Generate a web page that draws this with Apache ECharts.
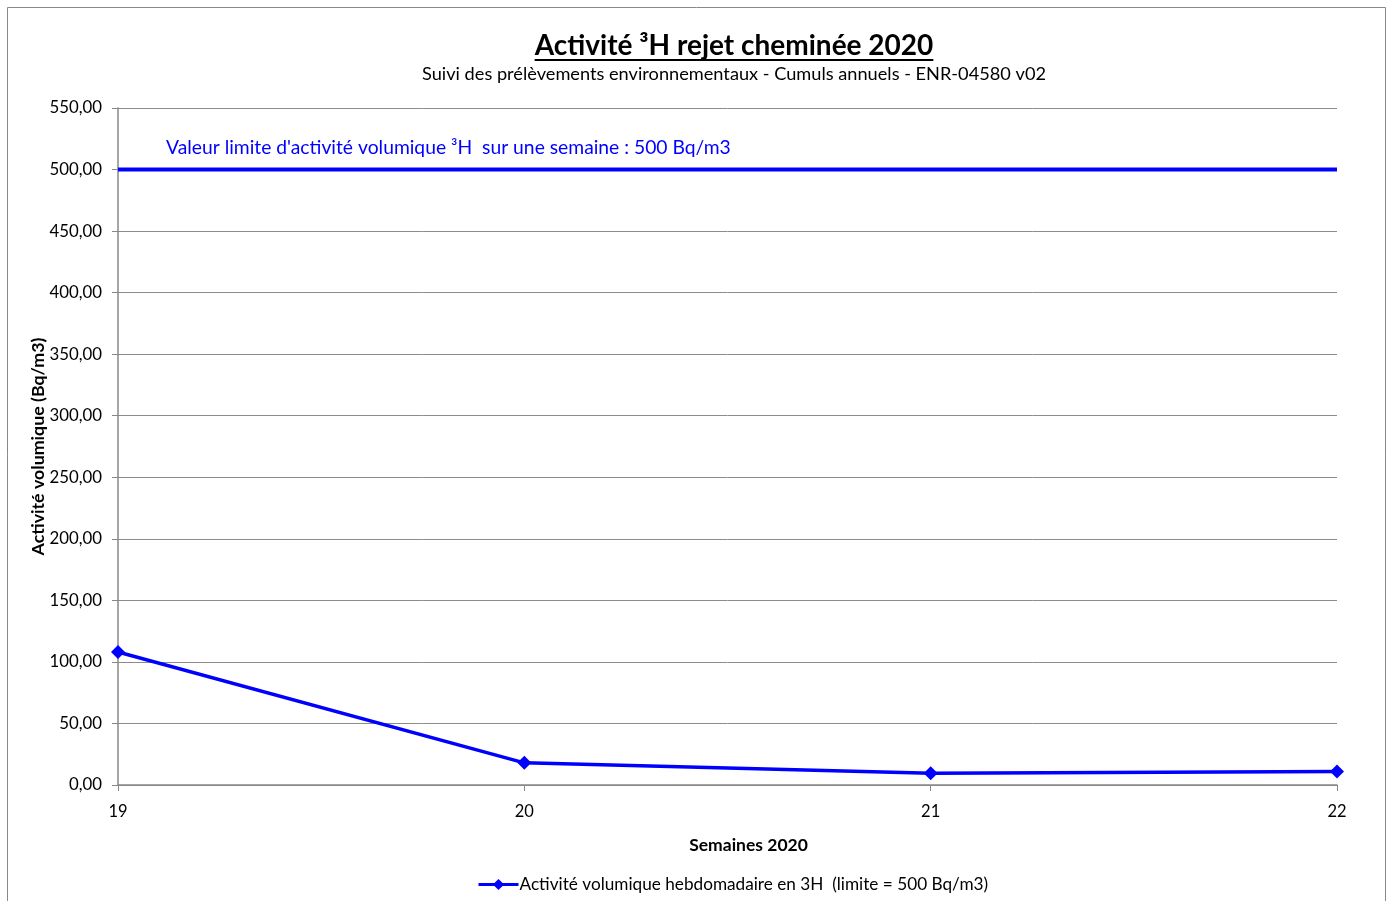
<!DOCTYPE html>
<html><head><meta charset="utf-8">
<script src="https://cdn.jsdelivr.net/npm/echarts@6/dist/echarts.min.js"></script>
<style>html,body{margin:0;padding:0;background:#fff}#c{width:1388px;height:901px}</style>
</head><body><div id="c"></div>
<script>
const weeks = ['19', '20', '21', '22'];
const activity = [108, 18, 9.5, 11];
const limit = [500, 500, 500, 500];
const yTicks = { min: 0, max: 550, interval: 50 };
const titleText = 'Activité ³H rejet cheminée 2020';
const subtitleText = 'Suivi des prélèvements environnementaux - Cumuls annuels - ENR-04580 v02';
const limitText = "Valeur limite d'activité volumique ³H  sur une semaine : 500 Bq/m3";
const seriesName = 'Activité volumique hebdomadaire en 3H  (limite = 500 Bq/m3)';

const FONT = 'Lato, "Open Sans", sans-serif';
const titleFont = 'bold 28px ' + FONT;
const ctx = document.createElement('canvas').getContext('2d');
ctx.font = titleFont;
const tw = ctx.measureText(titleText).width;
const cx = 734;

const chart = echarts.init(document.getElementById('c'));
chart.setOption({
  backgroundColor: '#fff',
  animation: false,
  textStyle: { fontFamily: FONT },
  grid: { left: 118, right: 51, top: 108, bottom: 116, containLabel: false },
  legend: {
    data: [seriesName], bottom: 3, left: 472,
    itemWidth: 40, itemHeight: 14, itemGap: 4,
    lineStyle: { width: 3 },
    textStyle: { fontSize: 17.2, color: '#000', fontFamily: FONT, padding: [0, 0, 0, -4] }
  },
  xAxis: {
    type: 'category', data: weeks, boundaryGap: false,
    name: 'Semaines 2020', nameLocation: 'middle', nameGap: 51,
    nameTextStyle: { fontSize: 17.5, fontWeight: 'bold', color: '#000', padding: [0, 0, 0, 42] },
    axisLine: { lineStyle: { color: '#888', width: 1.5 } },
    axisTick: { alignWithLabel: true, length: 6, lineStyle: { color: '#888' } },
    axisLabel: { fontSize: 16.5, color: '#000', margin: 18 }
  },
  yAxis: {
    type: 'value', min: yTicks.min, max: yTicks.max, interval: yTicks.interval,
    name: 'Activité volumique (Bq/m3)', nameLocation: 'middle', nameGap: 71,
    nameMoveOverlap: false,
    nameTextStyle: { fontSize: 17.8, fontWeight: 'bold', color: '#000', padding: [0, 0, 0, 0] },
    axisLine: { show: true, lineStyle: { color: '#888', width: 1.5 } },
    axisTick: { show: true, length: 6, lineStyle: { color: '#888' } },
    axisLabel: { fontSize: 16.8, color: '#000', margin: 16,
      formatter: v => v.toFixed(2).replace('.', ',') },
    splitLine: { lineStyle: { color: '#8c8c8c', width: 1 } }
  },
  series: [{
    name: seriesName, type: 'line', data: activity,
    symbol: 'diamond', symbolSize: 14,
    lineStyle: { color: '#0000ff', width: 3.5 },
    itemStyle: { color: '#0000ff' }
  }, {
    name: 'limite', type: 'line', data: limit,
    symbol: 'none', silent: true,
    lineStyle: { color: '#0000ff', width: 4 },
    itemStyle: { color: '#0000ff' }
  }],
  graphic: [{
    type: 'rect', left: 5, top: 5, shape: { width: 1378, height: 900 },
    style: { fill: 'none', stroke: '#888', lineWidth: 1 }, silent: true
  }, {
    type: 'text', x: cx, y: 32,
    style: { text: titleText, fill: '#000', font: titleFont, align: 'center', verticalAlign: 'top' }
  }, {
    type: 'line', shape: { x1: cx - tw / 2, y1: 60, x2: cx + tw / 2, y2: 60 },
    style: { stroke: '#000', lineWidth: 2 }, silent: true
  }, {
    type: 'text', x: cx, y: 65,
    style: { text: subtitleText, fill: '#000', font: '18.2px ' + FONT, align: 'center', verticalAlign: 'top' }
  }, {
    type: 'text', left: 166, top: 138,
    style: { text: limitText, fill: '#0000ff', font: '19.3px ' + FONT }
  }]
});
</script></body></html>
